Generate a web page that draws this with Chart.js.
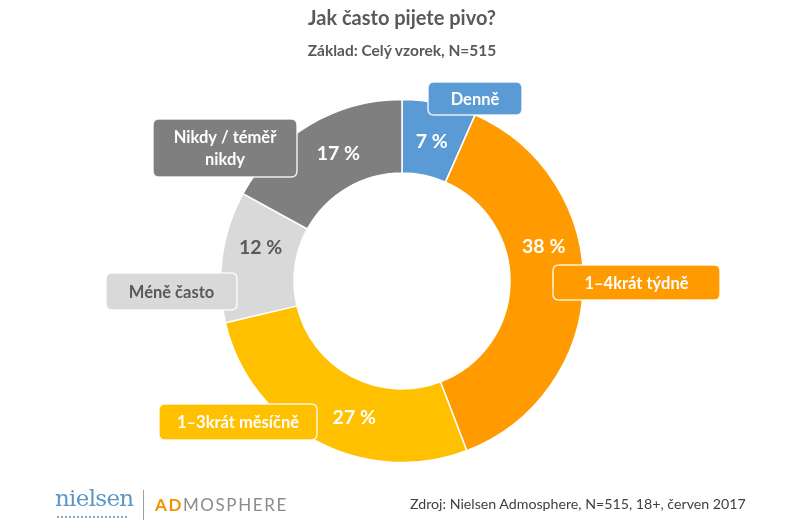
<!DOCTYPE html>
<html>
<head>
<meta charset="utf-8">
<script src="https://cdn.jsdelivr.net/npm/chart.js@4.4.1/dist/chart.umd.min.js"></script>
<style>
  html, body { margin: 0; padding: 0; background: #fff; }
  #wrap { position: relative; width: 800px; height: 525px; overflow: hidden; font-family: Lato, "Open Sans", sans-serif; }
  #c { position: absolute; left: 0; top: 0; }
  .t { position: absolute; left: 0; width: 804px; text-align: center; color: #595959; font-weight: bold; white-space: nowrap; }
  #title { top: 5px; font-size: 20px; }
  #subtitle { top: 41px; font-size: 15.5px; }
  #source { position: absolute; left: 410px; top: 495px; font-size: 14.2px; color: #404040; white-space: nowrap; }
  #nielsen { position: absolute; left: 55px; top: 485px; font-family: "DejaVu Serif", "Liberation Serif", serif; font-size: 23px; color: #5b97c9; letter-spacing: -0.7px; }
  #dots { position: absolute; left: 57px; top: 516px; width: 70px; border-bottom: 2px dotted #7fa9cf; }
  #sep { position: absolute; left: 143px; top: 490px; width: 1px; height: 30px; background: #a0a0a0; }
  #adm { position: absolute; left: 155px; top: 494px; font-size: 17px; letter-spacing: 1.6px; color: #8c8c8c; white-space: nowrap; }
  #adm b { color: #f39200; font-weight: bold; }
</style>
</head>
<body>
<div id="wrap">
  <canvas id="c" width="800" height="525"></canvas>
  <div class="t" id="title">Jak často pijete pivo?</div>
  <div class="t" id="subtitle">Základ: Celý vzorek, N=515</div>
  <div id="nielsen">nielsen</div>
  <div id="dots"></div>
  <div id="sep"></div>
  <div id="adm"><b>AD</b>MOSPHERE</div>
  <div id="source">Zdroj: Nielsen Admosphere, N=515, 18+, červen 2017</div>
</div>
<script>
// ---- data ----
const categories = ["Denně", "1–4krát týdně", "1–3krát měsíčně", "Méně často", "Nikdy / téměř nikdy"];
const categoryLines = [["Denně"], ["1–4krát týdně"], ["1–3krát měsíčně"], ["Méně často"], ["Nikdy / téměř", "nikdy"]];
const shares = [6.6, 37.6, 27.1, 11.7, 17.0];

// ---- styles ----
const colors = ["#5B9BD5", "#FF9A00", "#FFC000", "#D9D9D9", "#7F7F7F"];
const textColors = ["#FFFFFF", "#FFFFFF", "#FFFFFF", "#595959", "#FFFFFF"];
// percentage label nudges relative to the arc centroid
const pctNudge = [[0, 2], [-3, -38], [20, 9], [2, -14], [10, -3]];
// callout boxes relative to chart centre: [dx, dy, w, h]
const boxes = [[26, -199, 94, 33], [151, -16, 167, 35], [-243, 123, 158, 36], [-296, -8, 131, 37], [-249, -162, 144, 58]];

function roundRect(ctx, x, y, w, h, r) {
  ctx.beginPath();
  ctx.moveTo(x + r, y);
  ctx.lineTo(x + w - r, y);
  ctx.quadraticCurveTo(x + w, y, x + w, y + r);
  ctx.lineTo(x + w, y + h - r);
  ctx.quadraticCurveTo(x + w, y + h, x + w - r, y + h);
  ctx.lineTo(x + r, y + h);
  ctx.quadraticCurveTo(x, y + h, x, y + h - r);
  ctx.lineTo(x, y + r);
  ctx.quadraticCurveTo(x, y, x + r, y);
  ctx.closePath();
}

const labelPlugin = {
  id: 'labels',
  afterDatasetsDraw(chart) {
    const ctx = chart.ctx;
    const meta = chart.getDatasetMeta(0);
    ctx.save();
    meta.data.forEach((arc, i) => {
      const p = arc.tooltipPosition();
      const v = chart.data.datasets[0].data[i];
      // percentage
      ctx.font = 'bold 19.5px Lato, "Open Sans", sans-serif';
      ctx.fillStyle = textColors[i];
      ctx.textAlign = 'center';
      ctx.textBaseline = 'middle';
      ctx.fillText(Math.round(v) + ' %', p.x + pctNudge[i][0], p.y + pctNudge[i][1]);
      // callout box
      const b = boxes[i];
      const bx = arc.x + b[0], by = arc.y + b[1];
      roundRect(ctx, bx, by, b[2], b[3], 6);
      ctx.fillStyle = colors[i];
      ctx.fill();
      ctx.lineWidth = 1.5;
      ctx.strokeStyle = 'rgba(255,255,255,0.85)';
      ctx.stroke();
      ctx.font = 'bold 16.5px Lato, "Open Sans", sans-serif';
      ctx.fillStyle = textColors[i];
      const lines = categoryLines[i];
      const lh = 22;
      const cy = by + b[3] / 2 - (lines.length - 1) * lh / 2;
      lines.forEach((ln, k) => ctx.fillText(ln, bx + b[2] / 2, cy + k * lh + 1));
    });
    ctx.restore();
  }
};

new Chart(document.getElementById('c'), {
  type: 'doughnut',
  data: {
    labels: categories,
    datasets: [{
      data: shares,
      backgroundColor: colors,
      borderColor: '#FFFFFF',
      borderWidth: 1.5,
      hoverOffset: 0
    }]
  },
  options: {
    responsive: false,
    animation: false,
    cutout: '59.5%',
    rotation: 0,
    layout: { padding: { top: 98.75, bottom: 61.75, left: 4, right: 0 } },
    plugins: { legend: { display: false }, tooltip: { enabled: false }, title: { display: false } }
  },
  plugins: [labelPlugin]
});
</script>
</body>
</html>
